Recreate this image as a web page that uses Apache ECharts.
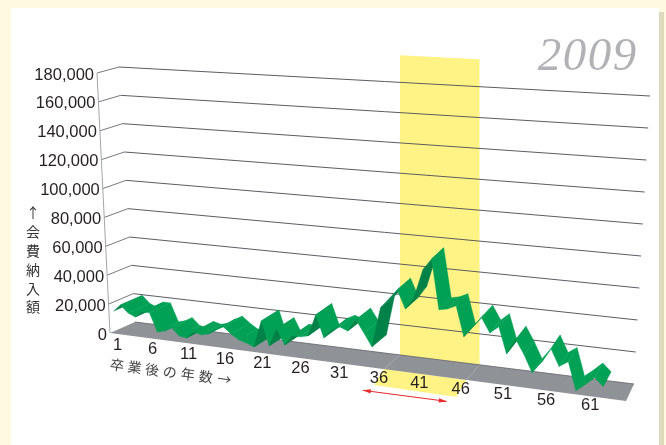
<!DOCTYPE html>
<html><head><meta charset="utf-8">
<style>html,body{margin:0;padding:0;background:#fff}#c{width:666px;height:445px}</style>
<script src="https://cdn.jsdelivr.net/npm/echarts@6/dist/echarts.min.js"></script>
</head><body><div id="c"></div>
<script>
// ---- data ----
const yearTitle = '2009';
const valueTicks = [0,20000,40000,60000,80000,100000,120000,140000,160000,180000];
const ageTicks = [1,6,11,16,21,26,31,36,41,46,51,56,61];
const ages = [1,2,3,4,5,6,7,8,9,10,11,12,13,14,15,16,17,18,19,20,21,22,23,24,25,26,27,28,29,30,31,32,33,34,35,36,37,38,39,40,41,42,43,44,45,46,47,48,49,50,51,52,53,54,55,56,57,58,59,60,61,62];
const fees = [15100,20000,15100,12900,17000,17000,4500,5800,8500,3700,3000,7700,6400,7700,11100,13700,9600,6300,4900,2900,20900,4900,16900,6800,13600,13500,14800,29300,14800,20700,23300,21300,29200,21300,12900,38900,45200,51800,40000,47700,66400,73900,41900,43100,45700,26600,33500,39900,31000,35600,19100,28800,19900,9400,16400,25700,15300,19000,1700,6200,11200,6400];
const bandAges = [36.62,46.51];
const bandTop = 198000;
const arrowAges = [34,44.2];
const yTitle = ['↑','会','費','納','入','額'];
const xTitle = ['卒','業','後','の','年','数','→'];

// ---- oblique view of a box: axis range -> picture ----
const W = 666, H = 445, AGE_MIN = 0.5, AGE_MAX = 64.6, VAL_MAX = 180000;
const PERSP = 1.14, D_FRONT = 0.05, D_BACK = 0.95;
const C = {f0:[[110,333],[626,401]], f1:[[97,73],[644,107]], b0:[[135,322],[634,384]], b1:[[119,67],[650,96]]};
const mix = (a,b,t)=>[a[0]+(b[0]-a[0])*t, a[1]+(b[1]-a[1])*t];
function view(api, age, val, d){
  const p = api.coord([age,val]);
  const k = p[0]/W, v = 1-p[1]/H;
  const s = k/(PERSP-(PERSP-1)*k);
  const lo = mix(mix(C.f0[0],C.f0[1],s), mix(C.b0[0],C.b0[1],s), d);
  const hi = mix(mix(C.f1[0],C.f1[1],s), mix(C.b1[0],C.b1[1],s), d);
  return mix(lo,hi,v);
}
const poly = (points,fill,extra)=>({type:'polygon',shape:{points},style:Object.assign({fill,stroke:null},extra||{})});
const line = (points,stroke,w)=>({type:'polyline',shape:{points},style:{fill:null,stroke,lineWidth:w}});
const text = (t,x,y,font,fill,align,rot)=>({type:'text',x:x,y:y,rotation:rot||0,style:{text:t,font,fill,align:align||'center',verticalAlign:'middle'}});
const SANS = '"Liberation Sans",sans-serif';
const CJK = '"Noto Sans CJK JP",sans-serif';

const base = {type:'custom',coordinateSystem:'cartesian2d',silent:true,clip:false,animation:false};
const series = [
 // highlighted band on the back wall and on the front lip of the floor
 Object.assign({},base,{z:2,data:[bandAges],encode:{x:0,y:1},renderItem(p,api){
   const a=bandAges[0], b=bandAges[1];
   const fa=view(api,a,0,1), fb=view(api,b,0,1), ta=view(api,a,bandTop,1), tb=view(api,b,bandTop,1);
   const la=view(api,a,0,0), lb=view(api,b,0,0);
   return {type:'group',children:[
     poly([[fa[0],ta[1]],[fb[0],tb[1]],fb,fa],'#fff385'),
     poly([la,lb,[lb[0]-10,lb[1]+17],[la[0]-10,la[1]+16]],'#fff385')
   ]};
 }}),
 // grid lines
 Object.assign({},base,{z:3,data:valueTicks.filter(v=>v>0).map(v=>[AGE_MIN,v]),encode:{x:0,y:1},renderItem(p,api){
   const v=api.value(1);
   return {type:'group',children:[
     line([view(api,AGE_MIN,v,0),view(api,AGE_MIN,v,1)],'#77797c',1),
     line([view(api,AGE_MIN,v,1),view(api,AGE_MAX,v,1)],'#5c5d61',1)
   ]};
 }}),
 // vertical axis line
 Object.assign({},base,{z:3,data:[[AGE_MIN,0]],encode:{x:0,y:1},renderItem(p,api){
   return line([view(api,AGE_MIN,0,0),view(api,AGE_MIN,VAL_MAX,0)],'#a3a6aa',1);
 }}),
 // floor
 Object.assign({},base,{z:4,data:[[AGE_MIN,0]],encode:{x:0,y:1},renderItem(p,api){
   const kids=[poly([view(api,AGE_MIN,0,0),view(api,AGE_MIN,0,1),view(api,AGE_MAX,0,1),view(api,AGE_MAX,0,0)],'#8f9296')];
   bandAges.forEach(a=>kids.push(line([view(api,a,0,0),view(api,a,0,1)],'#b9bbbd',0.6)));
   kids.push(line([view(api,AGE_MIN,0,1),view(api,AGE_MAX,0,1)],'#606266',0.8));
   return {type:'group',children:kids};
 }}),
 // ribbon
 Object.assign({},base,{z:5,data:ages.map((a,i)=>[a,fees[i]]),encode:{x:0,y:1},renderItem(p,api){
   const i=p.dataIndex;
   if(i>=ages.length-1) return {type:'group',children:[]};
   const f1=view(api,ages[i],fees[i],D_FRONT), b1=view(api,ages[i],fees[i],D_BACK);
   const f2=view(api,ages[i+1],fees[i+1],D_FRONT), b2=view(api,ages[i+1],fees[i+1],D_BACK);
   const cross=(f2[0]-f1[0])*(b1[1]-f1[1])-(f2[1]-f1[1])*(b1[0]-f1[0]);
   const col=cross>0?'#008148':'#00a155';
   return poly([f1,b1,b2,f2],col,{stroke:col,lineWidth:0.4});
 }}),
 // value labels
 Object.assign({},base,{z:6,data:valueTicks.map(v=>[AGE_MIN,v]),encode:{x:0,y:1},renderItem(p,api){
   const v=api.value(1), q=view(api,AGE_MIN,v,0);
   return text(v.toLocaleString('en-US'),q[0]-3,q[1]+2,'16.5px '+SANS,'#231f20','right');
 }}),
 // age labels
 Object.assign({},base,{z:6,data:ageTicks.map(a=>[a,0]),encode:{x:0,y:1},renderItem(p,api){
   const a=api.value(0), q=view(api,a,0,0), t=(a-1)/60;
   return text(String(a),q[0]+4-7*t,q[1]+12-3*t,'16.5px '+SANS,'#231f20','center');
 }}),
 // x title
 Object.assign({},base,{z:6,data:xTitle.map((c,i)=>[1.5+2.45*i,0]),encode:{x:0,y:1},renderItem(p,api){
   const q=view(api,api.value(0),0,0);
   return text(xTitle[p.dataIndex],q[0],q[1]+31,'14px '+CJK,'#444','center',-0.13);
 }}),
 // red arrow
 Object.assign({},base,{z:6,data:[arrowAges],encode:{x:0,y:1},renderItem(p,api){
   const a=view(api,arrowAges[0],0,0), b=view(api,arrowAges[1],0,0);
   a[1]+=24; b[1]+=24;
   const L=Math.hypot(b[0]-a[0],b[1]-a[1]), ux=(b[0]-a[0])/L, uy=(b[1]-a[1])/L, n=[-uy,ux];
   const head=(t,dir)=>[t,[t[0]+dir*8*ux+2.2*n[0],t[1]+dir*8*uy+2.2*n[1]],[t[0]+dir*8*ux-2.2*n[0],t[1]+dir*8*uy-2.2*n[1]]];
   return {type:'group',children:[line([a,b],'#e8282b',1),poly(head(a,1),'#e8282b'),poly(head(b,-1),'#e8282b')]};
 }})
];

const chart = echarts.init(document.getElementById('c'),null,{renderer:'canvas',width:W,height:H});
chart.setOption({
  animation:false,
  backgroundColor:'#fefadf',
  grid:{left:0,right:0,top:0,bottom:0},
  xAxis:{type:'value',min:AGE_MIN,max:AGE_MAX,show:false},
  yAxis:{type:'value',min:0,max:VAL_MAX,show:false},
  graphic:{elements:[
    {type:'rect',z:-10,shape:{x:659,y:12,width:5,height:440},style:{fill:'#dcd9bc'}},
    {type:'rect',z:-9,shape:{x:11,y:8,width:648,height:445},style:{fill:'#ffffff'}}
  ].concat(yearTitle.split('').map((c,i)=>({type:'text',z:10,x:549.5+25*i,y:58,style:{text:c,font:'italic 47px "Liberation Serif",serif',fill:'#b0b2b5',align:'center',verticalAlign:'middle'}})))
   .concat(yTitle.map((c,i)=>({type:'text',z:10,x:33,y:213+i*18.8,style:{text:c,font:'14px '+CJK,fill:'#333',align:'center',verticalAlign:'middle'}})))},
  series
});
</script></body></html>
